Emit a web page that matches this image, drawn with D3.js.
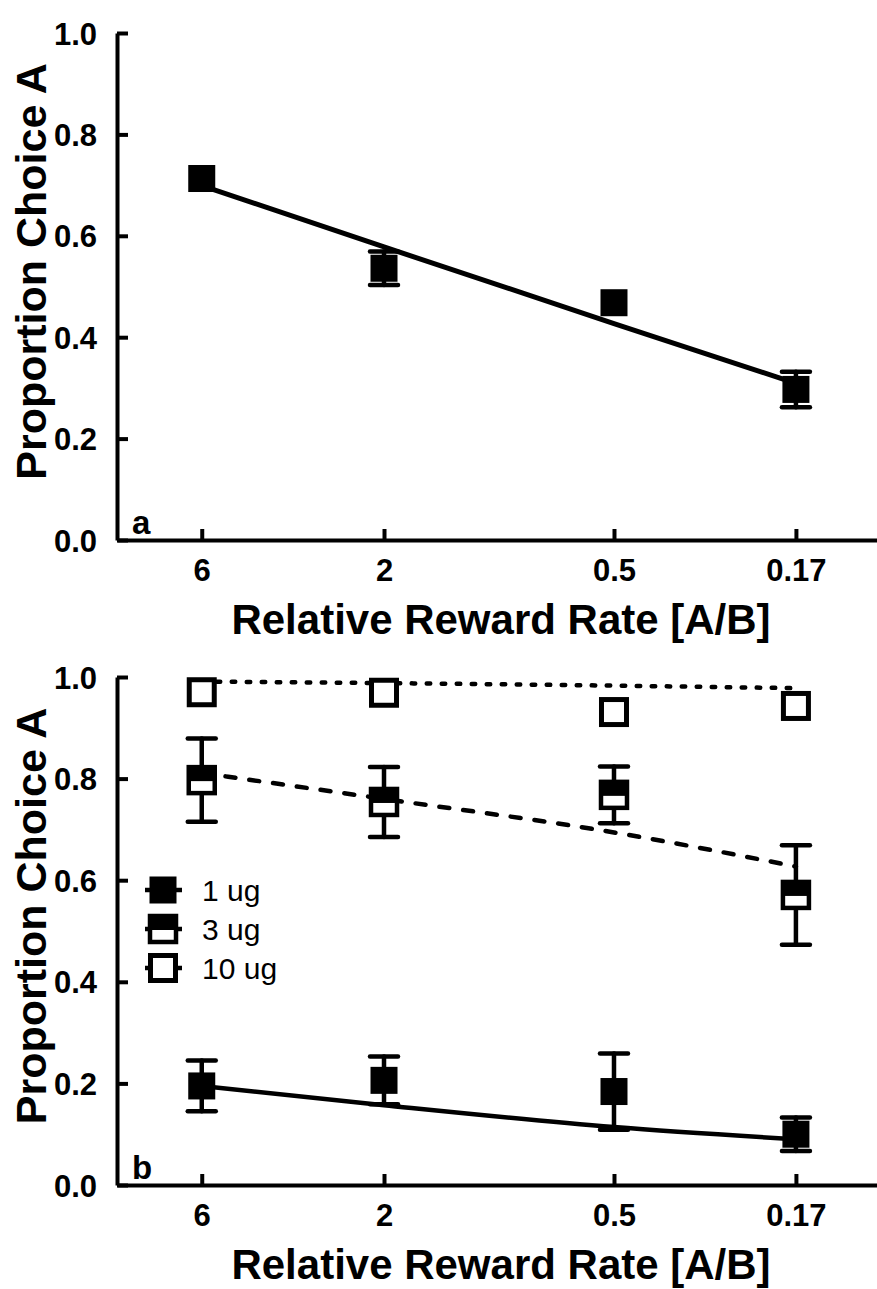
<!DOCTYPE html>
<html>
<head>
<meta charset="utf-8">
<script src="https://cdn.jsdelivr.net/npm/d3@7"></script>
<style>
  html, body { margin: 0; padding: 0; background: #fff; }
  svg { display: block; font-family: "Liberation Sans", Arial, sans-serif; }
</style>
</head>
<body>
<div id="chart"></div>
<script>
// x categories (relative reward rate A/B) and their tick labels
const rateValues = [6, 2, 0.5, 0.167];
const rateLabels = ["6", "2", "0.5", "0.17"];
const yTicks = [0, 0.2, 0.4, 0.6, 0.8, 1.0];

// panel a
const aMean = [0.713, 0.536, 0.468, 0.297];
const aErr = [0, 0.033, 0, 0.035];
const aFit = [0.699, 0.578, 0.427, 0.309];

// panel b, one series per dose
const doseLabels = ["1 ug", "3 ug", "10 ug"];
const b1Mean = [0.195, 0.206, 0.184, 0.100];
const b1Err = [0.050, 0.047, 0.075, 0.033];
const b1Fit = [0.195, 0.157, 0.114, 0.090];
const b3Mean = [0.797, 0.754, 0.768, 0.571];
const b3Err = [0.082, 0.069, 0.056, 0.098];
const b3Fit = [0.811, 0.760, 0.694, 0.627];
const b10Mean = [0.970, 0.969, 0.931, 0.943];
const b10Err = [0, 0, 0, 0];
const b10Fit = [0.991, 0.988, 0.983, 0.978];

const W = 877, H = 1289;
const axisLeft = 117, axisRight = 881;
const markerSize = 27;

const svg = d3.select("#chart").append("svg")
  .attr("width", W).attr("height", H);

const x = d3.scaleLog().domain([10, 0.1]).range([axisLeft, axisRight]);

function drawPanel(top, bottom, letter, series) {
  const y = d3.scaleLinear().domain([0, 1]).range([bottom, top]);
  const g = svg.append("g");

  // axes
  const yAxis = g.append("g")
    .attr("transform", `translate(${axisLeft},0)`)
    .call(d3.axisLeft(y).tickValues(yTicks).tickFormat(d3.format(".1f"))
      .tickSizeInner(-11).tickSizeOuter(0).tickPadding(20));
  const xAxis = g.append("g")
    .attr("transform", `translate(0,${bottom})`)
    .call(d3.axisBottom(x).tickValues(rateValues).tickFormat((d, i) => rateLabels[i])
      .tickSizeInner(-11).tickSizeOuter(0).tickPadding(19));
  [yAxis, xAxis].forEach(a => {
    a.select(".domain").attr("stroke", "#000").attr("stroke-width", 4);
    a.selectAll(".tick line").attr("stroke", "#000").attr("stroke-width", 4);
    a.selectAll(".tick text")
      .attr("fill", "#000")
      .attr("font-size", 31)
      .attr("font-weight", "bold")
      .attr("font-family", '"Liberation Sans", Arial, sans-serif');
  });
  yAxis.selectAll(".tick text").attr("dy", "0.36em");
  xAxis.selectAll(".tick text").attr("dy", "0.72em");

  g.append("text")
    .attr("transform", `translate(46,${(top + bottom) / 2 - 15}) rotate(-90)`)
    .attr("text-anchor", "middle")
    .attr("font-size", 43).attr("font-weight", "bold")
    .text("Proportion Choice A");

  g.append("text")
    .attr("x", (axisLeft + W) / 2 + 4).attr("y", bottom + 94)
    .attr("text-anchor", "middle")
    .attr("font-size", 42).attr("font-weight", "bold")
    .text("Relative Reward Rate [A/B]");

  g.append("text")
    .attr("x", 132).attr("y", bottom - 6)
    .attr("font-size", 33).attr("font-weight", "bold")
    .text(letter);

  const line = d3.line().x((d, i) => x(rateValues[i])).y(d => y(d)).curve(d3.curveMonotoneX);

  series.forEach(s => {
    g.append("path")
      .datum(s.fit)
      .attr("d", line)
      .attr("fill", "none")
      .attr("stroke", "#000")
      .attr("stroke-width", s.lineWidth)
      .attr("stroke-dasharray", s.dash)
      .attr("stroke-linecap", s.dash ? "round" : "butt");
  });

  series.forEach(s => {
    const pts = s.mean.map((m, i) => ({ cx: x(rateValues[i]), m, e: s.err[i] }));
    const eb = g.append("g").attr("stroke", "#000").attr("stroke-width", 4.5)
      .attr("stroke-linecap", "round");
    pts.filter(p => p.e > 0).forEach(p => {
      eb.append("line").attr("x1", p.cx).attr("x2", p.cx)
        .attr("y1", y(p.m + p.e)).attr("y2", y(p.m - p.e));
      [p.m + p.e, p.m - p.e].forEach(v => {
        eb.append("line").attr("x1", p.cx - 14).attr("x2", p.cx + 14)
          .attr("y1", y(v)).attr("y2", y(v));
      });
    });
    pts.forEach(p => drawMarker(g, s.style, p.cx, y(p.m)));
  });
}

function drawMarker(g, style, cx, cy) {
  const h = markerSize / 2;
  if (style === "filled") {
    g.append("rect").attr("x", cx - h).attr("y", cy - h)
      .attr("width", markerSize).attr("height", markerSize).attr("fill", "#000");
  } else if (style === "half") {
    g.append("rect").attr("x", cx - h + 0.5).attr("y", cy - h + 0.5)
      .attr("width", markerSize - 1).attr("height", markerSize - 1)
      .attr("fill", "#fff").attr("stroke", "#000").attr("stroke-width", 4.5);
    g.append("rect").attr("x", cx - h).attr("y", cy - h)
      .attr("width", markerSize).attr("height", h + 1).attr("fill", "#000");
  } else {
    g.append("rect").attr("x", cx - h + 1).attr("y", cy - h + 1)
      .attr("width", markerSize - 2).attr("height", markerSize - 2)
      .attr("fill", "#fff").attr("stroke", "#000").attr("stroke-width", 5);
  }
}

drawPanel(33, 540, "a", [
  { mean: aMean, err: aErr, fit: aFit, style: "filled", dash: null, lineWidth: 5 }
]);

const bSeries = [
  { mean: b1Mean, err: b1Err, fit: b1Fit, style: "filled", dash: null, lineWidth: 4.5 },
  { mean: b3Mean, err: b3Err, fit: b3Fit, style: "half", dash: "10,14", lineWidth: 4.5 },
  { mean: b10Mean, err: b10Err, fit: b10Fit, style: "open", dash: "3.5,11.5", lineWidth: 4.5 }
];
drawPanel(677, 1185, "b", bSeries);

// legend for panel b
const legend = svg.append("g");
const legendY = d3.scalePoint().domain(doseLabels).range([890, 968]);
doseLabels.forEach((lab, i) => {
  const ly = legendY(lab);
  legend.append("line").attr("x1", 145).attr("x2", 182).attr("y1", ly).attr("y2", ly)
    .attr("stroke", "#000").attr("stroke-width", 4.5);
  drawMarker(legend, bSeries[i].style, 163, ly);
  legend.append("text").attr("x", 202).attr("y", ly).attr("dy", "0.36em")
    .attr("font-size", 30).text(lab);
});
</script>
</body>
</html>
